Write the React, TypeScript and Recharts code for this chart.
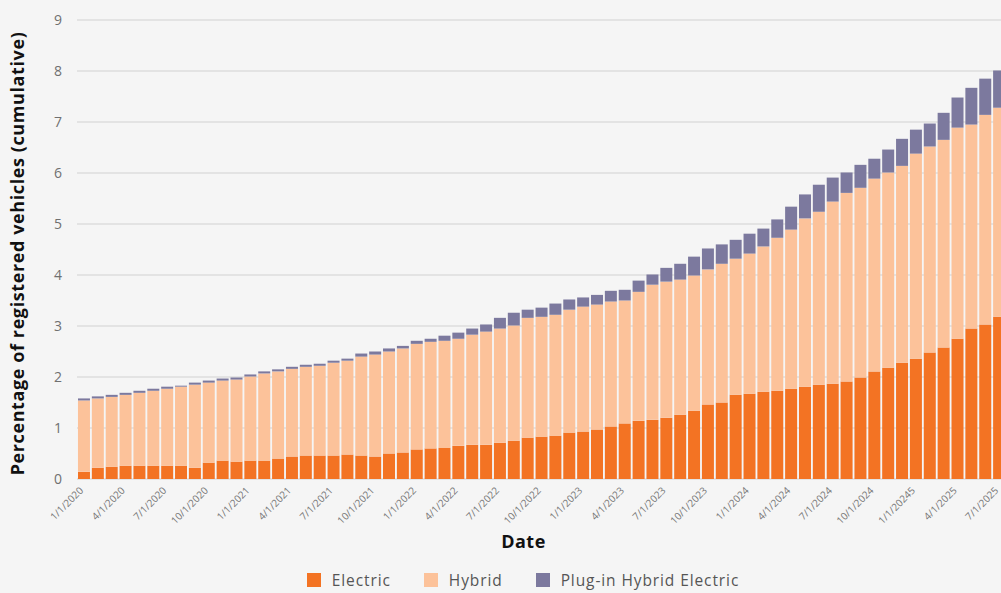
import React from 'react';
import { BarChart, Bar, XAxis, YAxis, CartesianGrid, Legend } from 'recharts';

const categories = [
  '1/1/2020','2/1/2020','3/1/2020','4/1/2020','5/1/2020','6/1/2020','7/1/2020','8/1/2020','9/1/2020','10/1/2020','11/1/2020','12/1/2020',
  '1/1/2021','2/1/2021','3/1/2021','4/1/2021','5/1/2021','6/1/2021','7/1/2021','8/1/2021','9/1/2021','10/1/2021','11/1/2021','12/1/2021',
  '1/1/2022','2/1/2022','3/1/2022','4/1/2022','5/1/2022','6/1/2022','7/1/2022','8/1/2022','9/1/2022','10/1/2022','11/1/2022','12/1/2022',
  '1/1/2023','2/1/2023','3/1/2023','4/1/2023','5/1/2023','6/1/2023','7/1/2023','8/1/2023','9/1/2023','10/1/2023','11/1/2023','12/1/2023',
  '1/1/2024','2/1/2024','3/1/2024','4/1/2024','5/1/2024','6/1/2024','7/1/2024','8/1/2024','9/1/2024','10/1/2024','11/1/2024','12/1/2024',
  '1/1/20245','2/1/2025','3/1/2025','4/1/2025','5/1/2025','6/1/2025','7/1/2025',
];

const electric = [
  0.14, 0.22, 0.24, 0.26, 0.26, 0.26, 0.26, 0.26, 0.22, 0.32, 0.36, 0.34,
  0.36, 0.36, 0.40, 0.44, 0.46, 0.46, 0.46, 0.48, 0.46, 0.44, 0.50, 0.52,
  0.58, 0.60, 0.61, 0.65, 0.67, 0.67, 0.71, 0.75, 0.81, 0.83, 0.85, 0.91,
  0.93, 0.97, 1.03, 1.09, 1.14, 1.16, 1.20, 1.26, 1.34, 1.46, 1.50, 1.65,
  1.67, 1.71, 1.73, 1.77, 1.81, 1.85, 1.87, 1.91, 1.99, 2.11, 2.18, 2.28,
  2.36, 2.48, 2.58, 2.75, 2.95, 3.03, 3.18,
];

const hybrid = [
  1.40, 1.36, 1.37, 1.39, 1.43, 1.47, 1.51, 1.55, 1.63, 1.57, 1.57, 1.61,
  1.65, 1.71, 1.71, 1.72, 1.74, 1.76, 1.82, 1.84, 1.94, 2.00, 2.00, 2.04,
  2.07, 2.09, 2.10, 2.10, 2.16, 2.22, 2.24, 2.26, 2.35, 2.35, 2.37, 2.41,
  2.45, 2.45, 2.45, 2.41, 2.53, 2.65, 2.67, 2.65, 2.65, 2.65, 2.72, 2.67,
  2.75, 2.85, 3.00, 3.12, 3.30, 3.39, 3.57, 3.70, 3.72, 3.78, 3.83, 3.86,
  4.02, 4.04, 4.07, 4.14, 4.00, 4.11, 4.10,
];

const plugInHybrid = [
  0.04, 0.04, 0.04, 0.04, 0.04, 0.04, 0.04, 0.02, 0.04, 0.04, 0.04, 0.04,
  0.04, 0.04, 0.04, 0.04, 0.04, 0.04, 0.04, 0.04, 0.06, 0.06, 0.06, 0.05,
  0.06, 0.06, 0.10, 0.12, 0.12, 0.14, 0.21, 0.25, 0.16, 0.18, 0.22, 0.20,
  0.18, 0.19, 0.21, 0.21, 0.22, 0.20, 0.27, 0.31, 0.37, 0.41, 0.38, 0.37,
  0.39, 0.35, 0.36, 0.45, 0.47, 0.53, 0.47, 0.40, 0.45, 0.39, 0.45, 0.53,
  0.47, 0.45, 0.53, 0.59, 0.72, 0.71, 0.73,
];

const yTicks = [0, 1, 2, 3, 4, 5, 6, 7, 8, 9];

const seriesNames = ['Electric', 'Hybrid', 'Plug-in Hybrid Electric'];
const seriesColors = ['#F37323', '#FCC29A', '#7C799E'];

const data = categories.map((date, i) => ({
  date,
  electric: electric[i],
  hybrid: hybrid[i],
  phev: plugInHybrid[i],
}));

const FONT = '"Open Sans", Arial, sans-serif';

const XTick = (props: any) => {
  const { x, y, payload } = props;
  return (
    <g transform={`translate(${x},${y})`}>
      <text x={-3} y={3} textAnchor="end" fill="#777" fontSize={10} fontFamily={FONT} transform="rotate(-45)">
        {payload.value}
      </text>
    </g>
  );
};

const LegendContent = () => (
  <div style={{ display: 'flex', justifyContent: 'center', alignItems: 'center', height: 30, paddingTop: 4, boxSizing: 'border-box', fontFamily: FONT, fontSize: 15.5, letterSpacing: 0.9, color: '#555' }}>
    {seriesNames.map((n, i) => (
      <div key={n} style={{ display: 'flex', alignItems: 'center', marginRight: i < 2 ? 33 : 0 }}>
        <span style={{ display: 'inline-block', width: 14, height: 14, background: seriesColors[i], marginRight: 11 }} />
        <span>{n}</span>
      </div>
    ))}
  </div>
);

export default function App() {
  return (
    <div style={{ position: 'fixed', left: 0, top: 0, width: 1001, height: 593, overflow: 'hidden', background: '#F5F5F5' }}>
      <BarChart
        width={1046}
        height={593}
        data={data}
        margin={{ top: 20, right: 40, left: 0, bottom: 0 }}
        barCategoryGap="7%"
      >
        <CartesianGrid vertical={false} stroke="#DCDCDC" strokeWidth={1.5} />
        <XAxis
          dataKey="date"
          interval={2}
          tick={<XTick />}
          tickLine={false}
          axisLine={false}
          height={84}
          label={{ value: 'Date', position: 'insideBottom', offset: 15, dx: -18, style: { fontFamily: FONT, fontWeight: 700, fontSize: 18, letterSpacing: 0.5, fill: '#111' } }}
        />
        <YAxis
          domain={[0, 9]}
          ticks={yTicks}
          width={77}
          tickLine={false}
          axisLine={false}
          tickMargin={9}
          tick={{ fill: '#707070', fontSize: 14, fontFamily: FONT }}
          label={{ value: 'Percentage of registered vehicles (cumulative)', angle: -90, position: 'center', dx: -21, dy: 4, style: { fontFamily: FONT, fontWeight: 700, fontSize: 18, letterSpacing: 0.6, fill: '#111' } }}
        />
        <Legend verticalAlign="bottom" content={<LegendContent />} wrapperStyle={{ left: 0, width: 1046 }} />
        <Bar dataKey="electric" name={seriesNames[0]} stackId="a" fill={seriesColors[0]} isAnimationActive={false} />
        <Bar dataKey="hybrid" name={seriesNames[1]} stackId="a" fill={seriesColors[1]} isAnimationActive={false} />
        <Bar dataKey="phev" name={seriesNames[2]} stackId="a" fill={seriesColors[2]} isAnimationActive={false} />
      </BarChart>
    </div>
  );
}
